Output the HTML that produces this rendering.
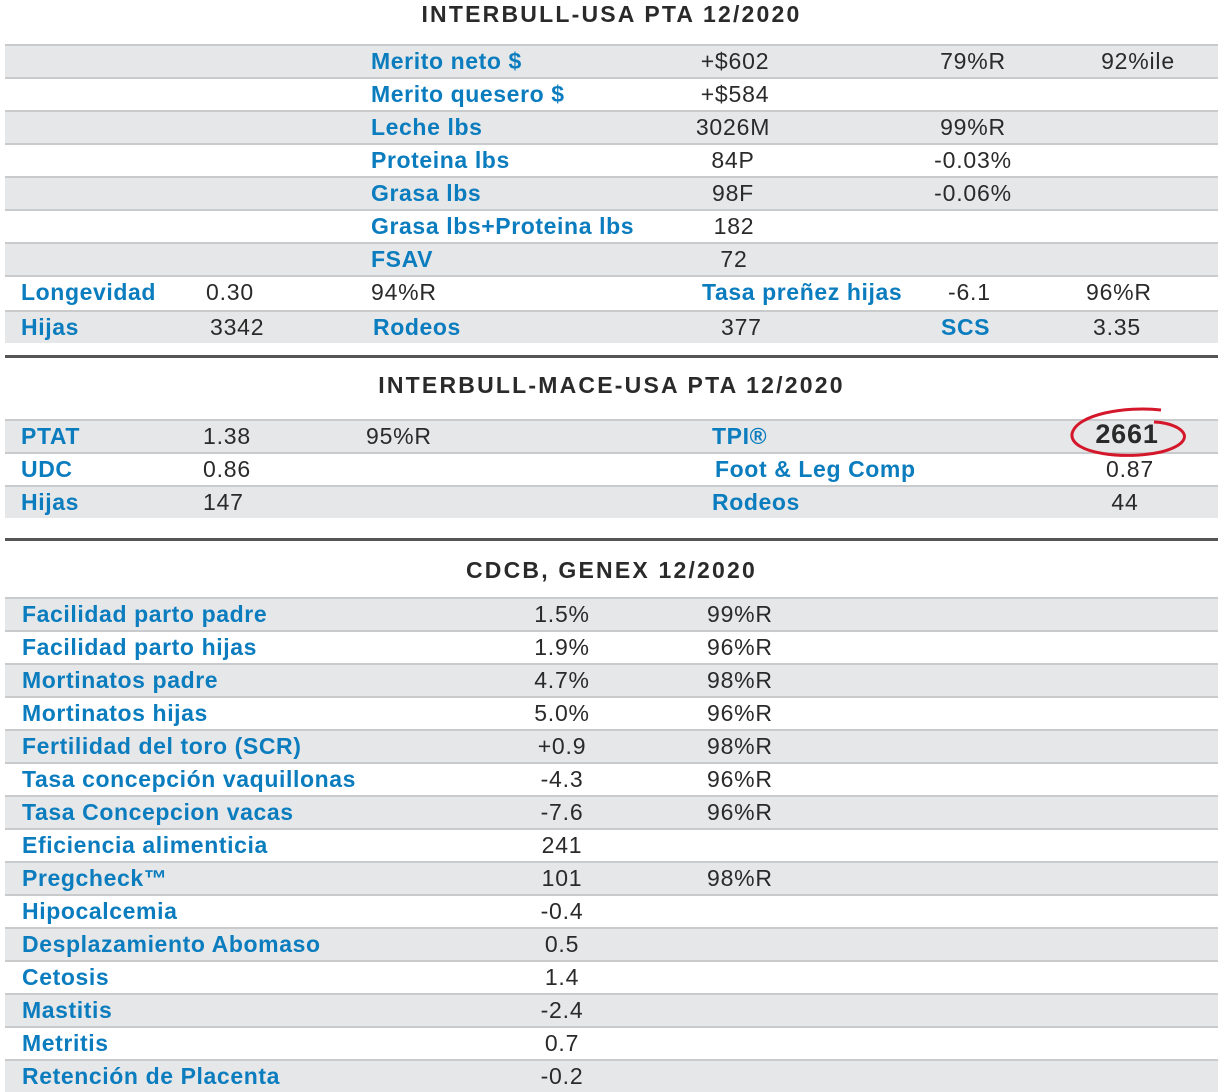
<!DOCTYPE html>
<html><head><meta charset="utf-8"><style>
body{margin:0;width:1223px;height:1091px;background:#fff;position:relative;overflow:hidden;font-family:"Liberation Sans",sans-serif}
.row{position:absolute;left:5px;width:1213px;border-top:2px solid #c9cacb;box-sizing:border-box}
.g{background:#e6e7e8}
.t{position:absolute;white-space:nowrap;font-size:23px;line-height:22px;z-index:2}
.l{color:#0b7dbf;font-weight:bold;letter-spacing:0.6px}
.v{color:#2a2a2a;letter-spacing:0.8px}
.c{transform:translateX(-50%)}
.title{position:absolute;width:1223px;text-align:center;font-weight:bold;font-size:23px;color:#2a2a2a;letter-spacing:2.2px}
.rule{position:absolute;left:5px;width:1213px;height:3px;background:#555}
</style></head><body>
<div class="title" style="top:1px">INTERBULL-USA PTA 12/2020</div>
<div class="rule" style="top:355px"></div>
<div class="title" style="top:372px">INTERBULL-MACE-USA PTA 12/2020</div>
<div class="rule" style="top:538px"></div>
<div class="title" style="top:557px">CDCB, GENEX 12/2020</div>
<svg style="position:absolute;left:1066px;top:404px;z-index:3" width="126" height="60"><path d="M95 6 C60 2 10 10 6 30 C4 50 60 56 95 48 C118 42 125 32 112 24 C105 20 95 18 88 18" fill="none" stroke="#d4172a" stroke-width="3"/></svg>
<script>
const rows1=[
[44,1,[[371,'l','Merito neto $'],[735,'vc','+$602'],[973,'vc','79%R'],[1138,'vc','92%ile']]],
[77,0,[[371,'l','Merito quesero $'],[735,'vc','+$584']]],
[110,1,[[371,'l','Leche lbs'],[733,'vc','3026M'],[973,'vc','99%R']]],
[143,0,[[371,'l','Proteina lbs'],[733,'vc','84P'],[973,'vc','-0.03%']]],
[176,1,[[371,'l','Grasa lbs'],[733,'vc','98F'],[973,'vc','-0.06%']]],
[209,0,[[371,'l','Grasa lbs+Proteina lbs'],[734,'vc','182']]],
[242,1,[[371,'l','FSAV'],[734,'vc','72']]],
[275,0,[[21,'l','Longevidad'],[206,'v','0.30'],[371,'v','94%R'],[702,'l','Tasa preñez hijas'],[948,'v','-6.1'],[1086,'v','96%R']]],
[310,1,[[21,'l','Hijas'],[210,'v','3342'],[373,'l','Rodeos'],[721,'v','377'],[941,'l','SCS'],[1093,'v','3.35']]],
[419,1,[[21,'l','PTAT'],[203,'v','1.38'],[366,'v','95%R'],[712,'l','TPI®'],[1127,'vcb','2661']]],
[452,0,[[21,'l','UDC'],[203,'v','0.86'],[715,'l','Foot &amp; Leg Comp'],[1130,'vc','0.87']]],
[485,1,[[21,'l','Hijas'],[203,'v','147'],[712,'l','Rodeos'],[1125,'vc','44']]]];
const labels3=['Facilidad parto padre','Facilidad parto hijas','Mortinatos padre','Mortinatos hijas','Fertilidad del toro (SCR)','Tasa concepción vaquillonas','Tasa Concepcion vacas','Eficiencia alimenticia','Pregcheck™','Hipocalcemia','Desplazamiento Abomaso','Cetosis','Mastitis','Metritis','Retención de Placenta'];
const values3=['1.5%','1.9%','4.7%','5.0%','+0.9','-4.3','-7.6','241','101','-0.4','0.5','1.4','-2.4','0.7','-0.2'];
const rel3=['99%R','96%R','98%R','96%R','98%R','96%R','96%R','','98%R','','','','','',''];
labels3.forEach((l,i)=>{const c=[[22,'l',l],[562,'vc',values3[i]]];if(rel3[i])c.push([707,'v',rel3[i]]);rows1.push([597+i*33,i%2==0?1:0,c]);});
rows1.forEach(r=>{
const d=document.createElement('div');
d.className='row'+(r[1]?' g':'');
d.style.top=r[0]+'px';d.style.height=(r[0]==275?35:33)+'px';


document.body.appendChild(d);
r[2].forEach(c=>{
const s=document.createElement('div');
let cls='t '+(c[1][0]=='l'?'l':'v');
if(c[1].includes('c'))cls+=' c';
s.className=cls;
s.style.left=c[0]+'px';s.style.top=(r[0]+6)+'px';
if(c[1].includes('b')){s.style.fontWeight='bold';s.style.fontSize='27px';s.style.top=(r[0]+4)+'px';}
s.innerHTML=c[2];


document.body.appendChild(s);});
});
</script>
</body></html>
